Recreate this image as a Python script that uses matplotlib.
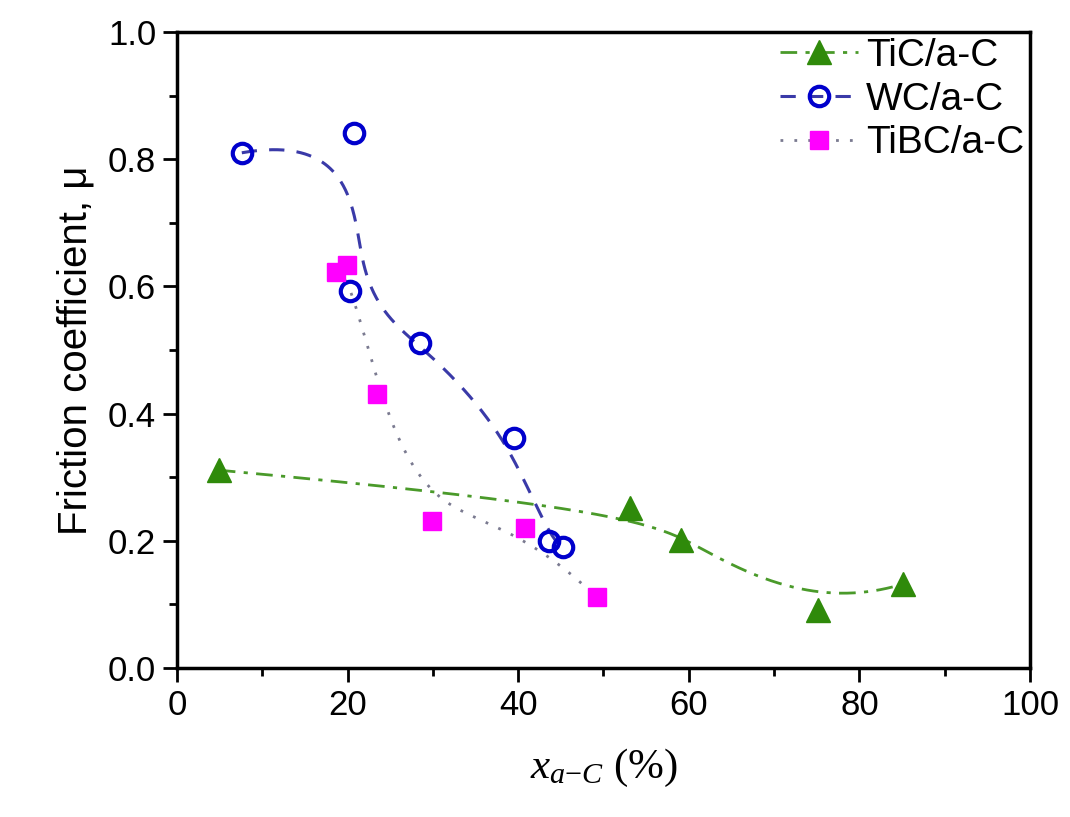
import numpy as np
import matplotlib
matplotlib.use("Agg")
import matplotlib.pyplot as plt
from matplotlib.ticker import MultipleLocator

plt.rcParams["font.family"] = ["Liberation Sans", "DejaVu Sans"]
plt.rcParams["mathtext.fontset"] = "custom"
plt.rcParams["mathtext.rm"] = "Liberation Serif"
plt.rcParams["mathtext.it"] = "Liberation Serif:italic"

# data
tic_x = [4.9, 53.1, 59.1, 75.2, 85.1]
tic_y = [0.311, 0.251, 0.202, 0.091, 0.132]

wc_x = [7.6, 20.8, 20.3, 28.5, 39.5, 43.6, 45.3]
wc_y = [0.810, 0.841, 0.592, 0.511, 0.361, 0.199, 0.190]

tibc_x = [18.7, 19.9, 23.4, 29.9, 40.8, 49.2]
tibc_y = [0.623, 0.634, 0.431, 0.231, 0.220, 0.111]


def bspline(px, py, k=3, num=400):
    # clamped B-spline with the points as control points (Origin style)
    px = np.asarray(px, float)
    py = np.asarray(py, float)
    n = len(px)
    k = min(k, n - 1)
    t = np.concatenate([np.zeros(k), np.linspace(0, 1, n - k + 1), np.ones(k)])
    u = np.linspace(0, 1, num)
    u[-1] -= 1e-9

    def basis(i, p):
        if p == 0:
            return ((t[i] <= u) & (u < t[i + 1])).astype(float)
        a = 0.0
        b = 0.0
        if t[i + p] != t[i]:
            a = (u - t[i]) / (t[i + p] - t[i]) * basis(i, p - 1)
        if t[i + p + 1] != t[i + 1]:
            b = (t[i + p + 1] - u) / (t[i + p + 1] - t[i + 1]) * basis(i + 1, p - 1)
        return a + b

    B = np.array([basis(i, k) for i in range(n)])
    return B.T @ px, B.T @ py


fig = plt.figure(figsize=(10.7, 8.17), dpi=100)
ax = fig.add_axes([0.1654, 0.1824, 0.7972, 0.7785])

tic_ls = (0, (6, 3, 1.5, 3))
wc_ls = (0, (5, 4))
tibc_ls = (0, (1, 4))

sx, sy = bspline(tic_x, tic_y)
ax.plot(sx, sy, color="#4a9a2a", lw=2.0, ls=tic_ls)
sx, sy = bspline(wc_x, wc_y)
ax.plot(sx, sy, color="#3a3aa8", lw=2.2, ls=wc_ls)
sx, sy = bspline(tibc_x, tibc_y)
ax.plot(sx, sy, color="#7a7a90", lw=2.0, ls=tibc_ls)

ax.plot(tic_x, tic_y, ls="none", marker="^", ms=17, color="#2f8a0a", mec="#2f8a0a")
ax.plot(wc_x, wc_y, ls="none", marker="o", ms=14, mfc="none", mec="#0000cc", mew=3)
ax.plot(tibc_x, tibc_y, ls="none", marker="s", ms=13, color="#ff00ff", mec="#ff00ff")

# legend handles
h1, = ax.plot([], [], color="#4a9a2a", lw=2.0, ls=tic_ls,
              marker="^", ms=17, mfc="#2f8a0a", mec="#2f8a0a")
h2, = ax.plot([], [], color="#3a3aa8", lw=2.2, ls=wc_ls,
              marker="o", ms=14, mfc="none", mec="#0000cc", mew=3)
h3, = ax.plot([], [], color="#7a7a90", lw=2.0, ls=tibc_ls,
              marker="s", ms=13, mfc="#ff00ff", mec="#ff00ff")
ax.legend([h1, h2, h3], ["TiC/a-C", "WC/a-C", "TiBC/a-C"], loc="upper right",
          frameon=False, fontsize=28, handlelength=2.0, handletextpad=0.2,
          labelspacing=0.2, borderaxespad=0.0, borderpad=0.15)

ax.set_xlim(0, 100)
ax.set_ylim(0, 1.0)
ax.xaxis.set_major_locator(MultipleLocator(20))
ax.xaxis.set_minor_locator(MultipleLocator(10))
ax.yaxis.set_major_locator(MultipleLocator(0.2))
ax.yaxis.set_minor_locator(MultipleLocator(0.1))
ax.yaxis.set_major_formatter(plt.FuncFormatter(lambda v, p: f"{v:.1f}"))
ax.tick_params(which="major", direction="out", length=10, width=2, labelsize=25, pad=5)
ax.tick_params(which="minor", direction="out", length=6, width=2)
for s in ax.spines.values():
    s.set_linewidth(2.5)

ax.set_ylabel("Friction coefficient, \u03bc", fontsize=29, labelpad=10)
ax.set_xlabel(r"$x_{a\mathrm{-}C}$ (%)", fontsize=31, family="Liberation Serif", labelpad=18)

fig.savefig("out.png", dpi=100)
